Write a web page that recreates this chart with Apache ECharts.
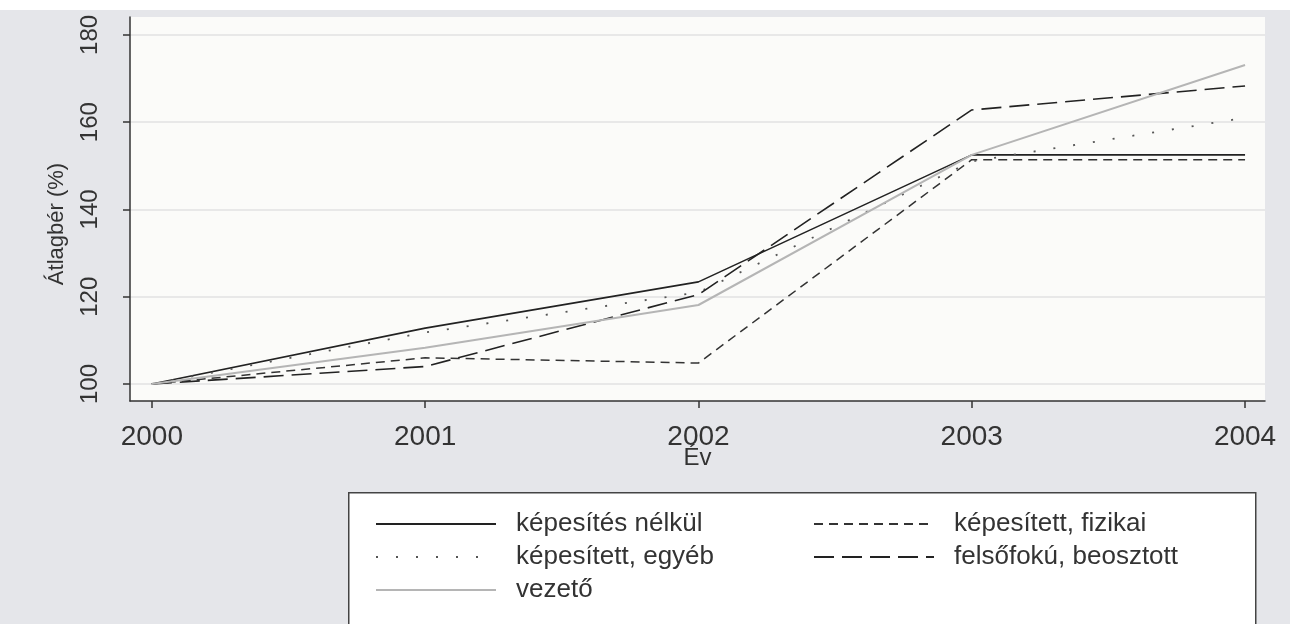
<!DOCTYPE html>
<html>
<head>
<meta charset="utf-8">
<script src="https://cdn.jsdelivr.net/npm/echarts@6/dist/echarts.min.js"></script>
<style>
  html, body { margin: 0; padding: 0; background: #e5e6ea; }
  #chart { width: 1290px; height: 624px; }
</style>
</head>
<body>
<div id="chart"></div>
<script>
// évek és tengelyjelek
const years = [2000, 2001, 2002, 2003, 2004]
const yTicks = [100, 120, 140, 160, 180]

// átlagbér indexek (%), 2000 = 100
const kepesitesNelkul = [100, 112.8, 123.4, 152.5, 152.5]
const kepesitettFizikai = [100, 106.0, 104.8, 151.4, 151.4]
const kepesitettEgyeb = [100, 111.8, 121.0, 151.0, 161.0]
const felsofokuBeosztott = [100, 104.0, 120.5, 162.8, 168.3]
const vezeto = [100, 108.3, 118.1, 152.5, 173.1]

const font = 'Liberation Sans'
const textColor = '#333'

const pairs = arr => years.map((y, i) => [y, arr[i]])

const lineSeries = (name, data, style) => ({
  name,
  type: 'line',
  data: pairs(data),
  symbol: 'none',
  silent: true,
  itemStyle: { color: style.color },
  lineStyle: style
})

const legendText = { fontFamily: font, fontSize: 26, color: textColor, padding: [0, 0, 0, 15] }

const option = {
  animation: false,
  backgroundColor: '#e5e6ea',
  grid: {
    left: 130, right: 25, top: 17, height: 384,
    show: true, backgroundColor: '#fbfbf9', borderWidth: 0
  },
  xAxis: {
    type: 'value',
    min: 1999.92, max: 2004.073,
    name: 'Év', nameLocation: 'middle', nameGap: 45, nameMoveOverlap: false,
    nameTextStyle: { fontFamily: font, fontSize: 24, color: textColor },
    axisLine: { lineStyle: { color: '#333', width: 1.5 } },
    axisTick: { customValues: years, length: 7, lineStyle: { color: '#333', width: 1.5 } },
    axisLabel: {
      customValues: years, margin: 22,
      fontFamily: font, fontSize: 28, color: textColor,
      formatter: v => String(v)
    },
    splitLine: { show: false }
  },
  yAxis: {
    type: 'value',
    min: 96.1, max: 184.1,
    name: 'Átlagbér (%)', nameLocation: 'middle', nameGap: 62, nameRotate: 90,
    nameTextStyle: { fontFamily: font, fontSize: 22, color: textColor, padding: [0, 30, 0, 0] },
    axisLine: { show: true, lineStyle: { color: '#333', width: 1.5 } },
    axisTick: { show: true, customValues: yTicks, length: 7, lineStyle: { color: '#333', width: 1.5 } },
    axisLabel: {
      customValues: yTicks, rotate: 90, margin: 28,
      fontFamily: font, fontSize: 24, color: textColor
    },
    splitLine: { show: true, lineStyle: { color: '#e2e2e2', width: 1.5 } }
  },
  legend: [
    {
      orient: 'vertical', left: 370, top: 506,
      itemWidth: 120, itemHeight: 14, itemGap: 7,
      itemStyle: { opacity: 0 },
      textStyle: legendText,
      data: ['képesítés nélkül', 'képesített, egyéb', 'vezető'],
      selectedMode: false
    },
    {
      orient: 'vertical', left: 808, top: 506,
      itemWidth: 120, itemHeight: 14, itemGap: 7,
      itemStyle: { opacity: 0 },
      textStyle: legendText,
      data: ['képesített, fizikai', 'felsőfokú, beosztott'],
      selectedMode: false
    }
  ],
  graphic: [
    { type: 'rect', left: 0, top: 0, shape: { width: 1290, height: 10 }, style: { fill: '#ffffff' }, z: -1 },
    { type: 'rect', left: 348, top: 492, shape: { width: 907, height: 140 },
      style: { fill: '#ffffff', stroke: '#444', lineWidth: 1.5 }, z: -1 }
  ],
  series: [
    lineSeries('képesítés nélkül', kepesitesNelkul, { color: '#222', width: 1.6, type: 'solid' }),
    lineSeries('képesített, fizikai', kepesitettFizikai, { color: '#333', width: 1.5, type: [9, 6] }),
    lineSeries('képesített, egyéb', kepesitettEgyeb, { color: '#555', width: 1.8, type: [2, 18] }),
    lineSeries('felsőfokú, beosztott', felsofokuBeosztott, { color: '#222', width: 1.6, type: [20, 8] }),
    lineSeries('vezető', vezeto, { color: '#b5b5b5', width: 2, type: 'solid' })
  ]
}

const chart = echarts.init(document.getElementById('chart'))
chart.setOption(option)
</script>
</body>
</html>
